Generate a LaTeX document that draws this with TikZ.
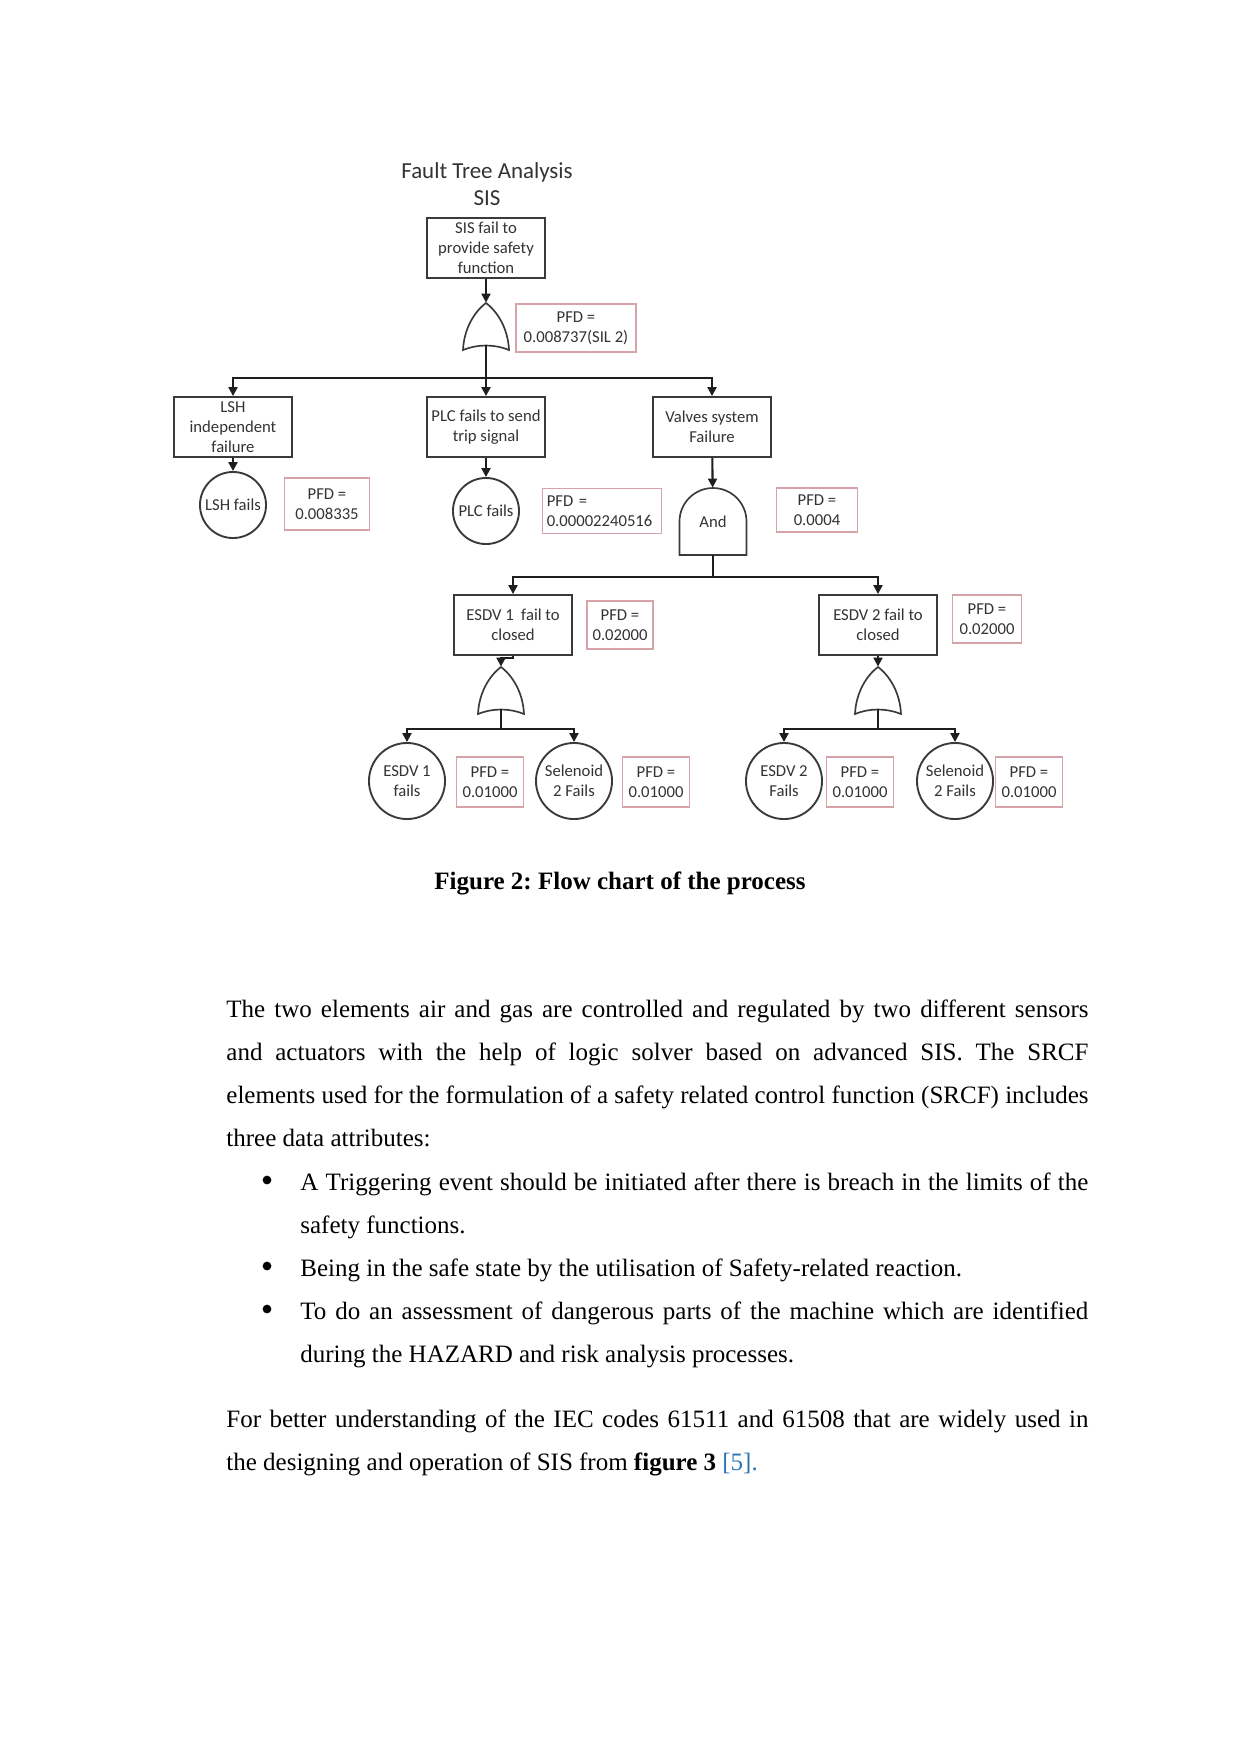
\documentclass[tikz,border=0pt]{standalone}
\usepackage{fontspec}
\setmainfont{Liberation Serif}
\newfontfamily\calibri{Carlito}
\usepackage{tikz}
\usetikzlibrary{arrows.meta,positioning,calc}
\definecolor{edge}{HTML}{3A3A3A}
\definecolor{ink}{HTML}{333333}
\definecolor{pfdline}{HTML}{D6A4A8}
\definecolor{wire}{HTML}{1E1E1E}
\definecolor{linkblue}{HTML}{2E74B5}
\newlength{\bodyw}\setlength{\bodyw}{413.8pt}
\newlength{\itemw}\setlength{\itemw}{378.2pt}
\frenchspacing
% gate outlines, drawn round a named node
\newcommand{\orshape}[1]{\draw[gate line,shift={(#1.center)}] (-23,-26) .. controls (-22,-5) and (-12,12) .. (0,21) .. controls (12,12) and (22,-5) .. (23,-26) .. controls (8,-20) and (-8,-20) .. cycle;}
\newcommand{\andshape}[1]{\draw[gate line,shift={(#1.center)}] (-33.5,-33.5) -- (-33.5,0) arc[start angle=180,end angle=0,radius=16.08pt] -- (33.5,-33.5) -- cycle;}

\begin{document}
\begin{tikzpicture}[x=0.48pt, y=0.48pt,
 ftbox/.style={draw=edge, line width=0.9pt, text=ink, font=\calibri\fontsize{8}{9.6}\selectfont, align=center, minimum width=57pt, minimum height=28.8pt, inner sep=0.5pt},
 pfd/.style={draw=pfdline, line width=0.8pt, text=ink, font=\calibri\fontsize{8}{9.6}\selectfont, align=center, inner sep=0pt},
 event/.style={circle, draw=edge, line width=0.9pt, text=ink, font=\calibri\fontsize{8}{9.6}\selectfont, align=center, inner sep=0pt},
 gate/.style={inner sep=0pt, text=ink, font=\calibri\fontsize{8}{9.6}\selectfont},
 gate line/.style={draw=edge, line width=0.8pt},
 arr/.style={-{Triangle[length=4.3pt,width=4.3pt]}, draw=wire, line width=1pt},
 body/.style={align=left, inner sep=0pt, font=\fontsize{12}{20.64}\selectfont},
 dot/.style={circle, fill=black, minimum size=4.2pt, inner sep=0pt}]
\path[use as bounding box, fill=white] (0,0) rectangle (1241,-1754);

% fault tree
\node[text=ink, font=\calibri\fontsize{11}{13}\selectfont, align=center] (title) at (487,-184) {Fault Tree Analysis\\SIS};
\node[ftbox] (sis) at (486,-248) {SIS fail to\\provide safety\\function};
\node[gate, minimum width=22pt, minimum height=20.2pt] (or1) at (486,-324) {};
\node[pfd, minimum width=57.6pt, minimum height=23pt] (pfd1) at (576,-328) {PFD =\\0.008737(SIL 2)};
\coordinate (bus1) at (486,-378);
\node[ftbox] (lsh) at (233,-427) {LSH\\independent\\failure};
\node[ftbox] (plc) at (486,-427) {PLC fails to send\\trip signal};
\node[ftbox] (valves) at (712,-427) {Valves system\\Failure};
\node[event, minimum size=31.7pt] (lshf) at (233,-505) {LSH fails};
\node[pfd, minimum width=40.8pt, minimum height=25pt] (pfd2) at (327,-504) {PFD =\\0.008335};
\node[event, minimum size=31.7pt] (plcf) at (486,-511) {PLC fails};
\node[pfd, minimum width=57pt, minimum height=21.6pt, text width=53pt, align=left, inner sep=2pt] (pfd3) at (602,-511) {PFD =\\0.00002240516};
\node[gate, minimum size=32.2pt] (and) at (713,-521.5) {And};
\node[pfd, minimum width=38.9pt, minimum height=21.1pt] (pfd4) at (817,-510) {PFD =\\0.0004};
\coordinate (bus2) at (713,-577);
\node[ftbox] (esdv1) at (513,-625) {ESDV 1\ \ fail to\\closed};
\node[pfd, minimum width=31.7pt, minimum height=23pt] (pfd5) at (620,-625) {PFD =\\0.02000};
\node[ftbox] (esdv2) at (878,-625) {ESDV 2 fail to\\closed};
\node[pfd, minimum width=33.1pt, minimum height=23pt] (pfd6) at (987,-619) {PFD =\\0.02000};
\node[gate, minimum width=22.6pt, minimum height=20.2pt] (or2) at (501,-688) {};
\node[gate, minimum width=22.6pt, minimum height=20.2pt] (or3) at (878,-688) {};
\coordinate (bus3) at (501,-729);
\coordinate (bus4) at (878,-729);
\node[event, minimum size=36.5pt] (esdv1f) at (407,-781) {ESDV 1\\fails};
\node[pfd, minimum width=32.2pt, minimum height=24pt] (pfd7) at (490,-782) {PFD =\\0.01000};
\node[event, minimum size=36.5pt] (sol1f) at (574,-781) {Selenoid\\2 Fails};
\node[pfd, minimum width=32.2pt, minimum height=24pt] (pfd8) at (656,-782) {PFD =\\0.01000};
\node[event, minimum size=36.5pt] (esdv2f) at (784,-781) {ESDV 2\\Fails};
\node[pfd, minimum width=32.2pt, minimum height=24pt] (pfd9) at (860,-782) {PFD =\\0.01000};
\node[event, minimum size=36.5pt] (sol2f) at (955,-781) {Selenoid\\2 Fails};
\node[pfd, minimum width=32.2pt, minimum height=24pt] (pfd10) at (1029,-782) {PFD =\\0.01000};
\orshape{or1} \orshape{or2} \orshape{or3} \andshape{and}

\draw[arr] (sis) -- (or1);
\draw[arr] (or1.south) -- (plc);
\draw[arr] (bus1) -| (lsh);
\draw[arr] (bus1) -| (valves);
\draw[arr] (lsh) -- (lshf);
\draw[arr] (plc) -- (plcf);
\draw[arr] (valves) -- (and);
\draw[arr] (and.south) -- (bus2) -| (esdv1);
\draw[arr] (bus2) -| (esdv2);
\draw[arr] (esdv1.south) -- ++(0,-2) -| (or2);
\draw[arr] (esdv2) -- (or3);
\draw[arr] (or2.south) -- (bus3) -| (esdv1f);
\draw[arr] (bus3) -| (sol1f);
\draw[arr] (or3.south) -- (bus4) -| (esdv2f);
\draw[arr] (bus4) -| (sol2f);

% caption and text
\node[font=\fontsize{12}{14}\selectfont\bfseries, anchor=base] (caption) at (620,-889) {Figure 2: Flow chart of the process};
\node[body, anchor=north west] (para1) at (226,-999) {\hbox to\bodyw{The two elements air and gas are controlled and regulated by two different sensors}\\
 \hbox to\bodyw{and actuators with the help of logic solver based on advanced SIS. The SRCF}\\
 \hbox to\bodyw{elements used for the formulation of a safety related control function (SRCF) includes}\\
 three data attributes:};
\node[dot] (dot1) at (267,-1180) {};
\node[body, anchor=north west] (item1) at (300,-1172) {\hbox to\itemw{A Triggering event should be initiated after there is breach in the limits of the}\\
 safety functions.};
\node[dot] (dot2) at (267,-1266) {};
\node[body, anchor=north west] (item2) at (300,-1258) {Being in the safe state by the utilisation of Safety-related reaction.};
\node[dot] (dot3) at (267,-1309) {};
\node[body, anchor=north west] (item3) at (300,-1301) {\hbox to\itemw{To do an assessment of dangerous parts of the machine which are identified}\\
 during the HAZARD and risk analysis processes.};
\node[body, anchor=north west] (para2) at (226,-1409) {\hbox to\bodyw{For better understanding of the IEC codes 61511 and 61508 that are widely used in}\\
 the designing and operation of SIS from \textbf{figure 3} \textcolor{linkblue}{[5].}};
\end{tikzpicture}
\end{document}
